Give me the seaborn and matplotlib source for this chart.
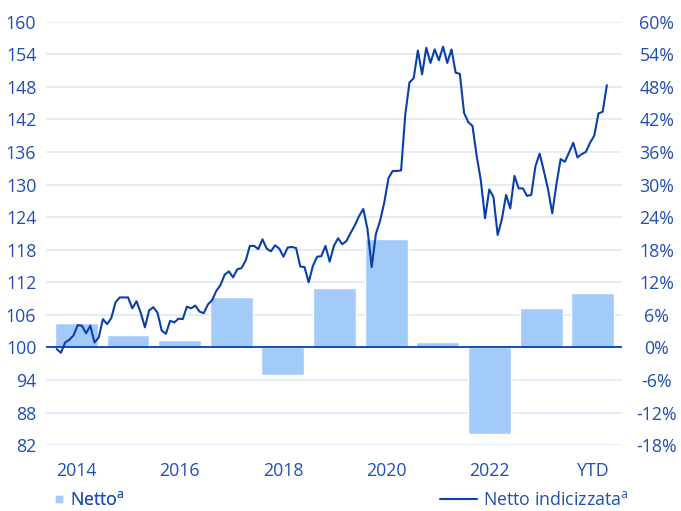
import numpy as np
import pandas as pd
import matplotlib
matplotlib.use("Agg")
import matplotlib.pyplot as plt
import seaborn as sns
from matplotlib.lines import Line2D

# dati
anni = ["2014", "2015", "2016", "2017", "2018", "2019", "2020", "2021", "2022", "2023", "YTD"]
netto = [4.4, 2.2, 1.4, 9.2, -5.0, 10.9, 19.9, 0.9, -16.0, 7.2, 10.1]  # %

indice = [
    99.7, 99.0, 100.9, 101.4, 102.2, 104.1, 104.0, 102.6, 104.0, 100.9,
    101.8, 105.2, 104.3, 105.4, 108.3, 109.2, 109.2, 109.2, 107.2, 108.5,
    106.4, 103.7, 106.8, 107.4, 106.4, 103.1, 102.5, 104.9, 104.6, 105.3,
    105.2, 107.5, 107.2, 107.7, 106.6, 106.3, 107.9, 108.7, 110.4, 111.5,
    113.4, 114.0, 112.9, 114.4, 114.6, 116.0, 118.7, 118.7, 118.1, 119.9,
    118.2, 117.7, 118.8, 118.2, 116.7, 118.4, 118.5, 118.3, 114.9, 114.8,
    112.0, 115.0, 116.7, 116.8, 118.7, 115.8, 118.7, 120.1, 119.0, 119.6,
    121.1, 122.5, 124.2, 125.5, 121.8, 114.8, 120.9, 123.3, 126.7, 131.2,
    132.5, 132.5, 132.6, 142.9, 148.8, 149.6, 154.7, 150.3, 155.2, 152.4,
    154.9, 152.9, 155.4, 152.4, 154.9, 150.6, 150.4, 143.2, 141.5, 140.8,
    135.3, 130.7, 123.8, 129.1, 127.7, 120.7, 123.6, 128.1, 125.6, 131.6,
    129.3, 129.3, 127.9, 128.1, 133.4, 135.7, 132.5, 129.1, 124.7, 130.1,
    134.7, 134.2, 135.9, 137.7, 135.0, 135.6, 136.0, 137.7, 139.0, 143.1,
    143.4, 148.3,
]

tick_sx = list(range(82, 161, 6))
tick_dx = list(range(-18, 61, 6))
etichette_x = ["2014", "2016", "2018", "2020", "2022", "YTD"]

blu = "#0b3fa8"
azzurro = "#a3cbfa"
testo = "#1f4fb4"
griglia = "#dde9fa"

sns.set_style("white")
plt.rcParams["font.family"] = ["Open Sans", "DejaVu Sans"]
plt.rcParams["mathtext.fontset"] = "custom"
plt.rcParams["mathtext.rm"] = "Open Sans"
plt.rcParams["font.size"] = 12.8

fig = plt.figure(figsize=(6.81, 5.11), dpi=100)
ax2 = fig.add_axes([0.0675, 0.129, 0.846, 0.8285])
ax = ax2.twinx()
ax.yaxis.tick_left()
ax2.yaxis.tick_right()

# barre (asse %)
df = pd.DataFrame({"anno": anni, "netto": netto})
sns.barplot(data=df, x="anno", y="netto", ax=ax2, color=azzurro,
            saturation=1, width=0.83, zorder=2)
ax2.set_ylim(-18, 60)
ax2.set_yticks(tick_dx)
ax2.set_yticklabels([f"{v}%" for v in tick_dx], ha="center")
ax2.grid(axis="y", color=griglia, lw=1.2, zorder=0)
ax2.set_axisbelow(True)

# linea indice (asse sinistro)
xs = np.linspace(-0.379, 10.27, len(indice))
sns.lineplot(x=xs, y=indice, ax=ax, color=blu, lw=1.5, zorder=4)
ax.axhline(100, color=blu, lw=1.3, zorder=3)
ax.set_ylim(82, 160)
ax.set_yticks(tick_sx)

ax.set_zorder(ax2.get_zorder() + 1)
ax.patch.set_visible(False)

ax2.set_xlim(-0.587, 10.565)
ax2.set_xticks([0, 2, 4, 6, 8, 10])
ax2.set_xticklabels(etichette_x)

for a in (ax, ax2):
    a.set_xlabel("")
    a.set_ylabel("")
    for s in a.spines.values():
        s.set_visible(False)
    a.tick_params(length=0, colors=testo, labelsize=12.8)
ax.tick_params(axis="y", pad=7)
ax2.tick_params(axis="y", pad=25)
ax2.tick_params(axis="x", pad=12)

# legenda
quad = Line2D([], [], marker="s", ls="", color=azzurro, markersize=4.5)
leg1 = fig.legend(handles=[quad], labels=["Netto$^\\mathrm{a}$"],
                  loc="center left", bbox_to_anchor=(0.058, 0.022), frameon=False,
                  handlelength=0.4, handletextpad=0.4,
                  labelcolor=testo, fontsize=12.8)
leg2 = fig.legend(handles=[Line2D([], [], color=blu, lw=1.5)],
                  labels=["Netto indicizzata$^\\mathrm{a}$"],
                  loc="center left", bbox_to_anchor=(0.622, 0.022), frameon=False,
                  handlelength=2.1, handletextpad=0.35, labelcolor=testo,
                  fontsize=12.8)
fig.add_artist(leg1)

fig.savefig("out.png", dpi=100)
